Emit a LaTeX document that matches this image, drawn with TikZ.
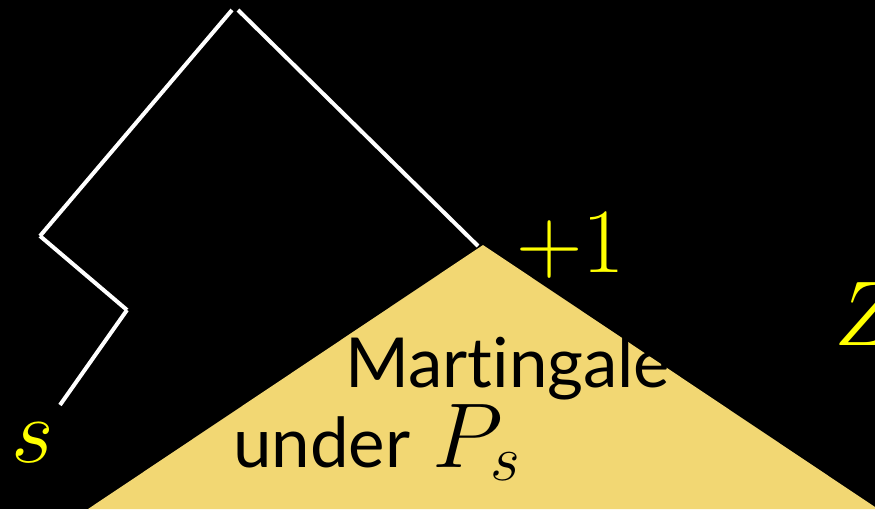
\RequirePackage{fix-cm}
\documentclass[tikz,border=0pt]{standalone}
\usepackage{fontspec}
\newfontfamily\gillfont[Ligatures={NoCommon,NoContextual}]{Lato}
\usetikzlibrary{positioning}
\definecolor{TriGold}{RGB}{242,215,115}
\definecolor{LblYel}{RGB}{255,255,0}
\newcommand{\bigmath}{\fontsize{92}{98}\selectfont}
\tikzset{
  walk/.style={white,line width=4pt,line cap=butt},
  mathlbl/.style={text=LblYel,font=\bigmath,inner sep=0pt,anchor=base west},
  txtlbl/.style={text=black,font=\gillfont\fontsize{69}{74}\selectfont,
                 inner sep=0pt,anchor=base west},
}

\begin{document}
\begin{tikzpicture}[x=1pt,y=-1pt]
  \useasboundingbox (0,0) rectangle (875,509);
  \fill[black] (0,0) rectangle (875,509);
  \clip (0,0) rectangle (875,509);

  % region under the barrier
  \fill[TriGold] (88,509) -- (483,245) -- (878,509) -- cycle;

  % path of the walk
  \coordinate (w0) at (60,405);
  \coordinate (w1) at (127,310);
  \coordinate (w2) at (40,236);
  \coordinate (w3) at (232,10);
  \coordinate (w4) at (238,10);
  \coordinate (w5) at (478,246);
  \draw[walk] (w0) -- (w1);
  \draw[walk] (w1) -- (w2);
  \draw[walk] (w2) -- (w3);
  \draw[walk] (w4) -- (w5);

  \node[mathlbl] (start) at (11,462) {$s$};
  \node[mathlbl] (plus) at (516,272) {$+1$};
  \node[mathlbl] (zed) at (834,345) {$Z$};

  \node[txtlbl] (mart) at (345,387) {Martingale};
  \node[txtlbl] (under) at (233,467) {under};
  \node[anchor=base west,inner sep=0pt,font=\bigmath] (ps) at (432,467) {$P_s$};
\end{tikzpicture}
\end{document}
